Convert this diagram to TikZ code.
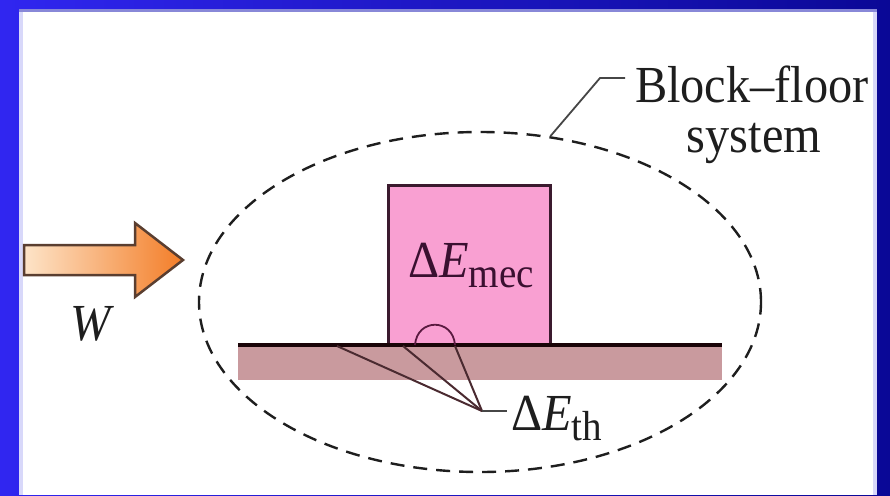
\documentclass[tikz,border=0pt]{standalone}
\usepackage{fontspec}
\setmainfont{Liberation Serif}
\usetikzlibrary{shapes.geometric}
\definecolor{bgl}{RGB}{48,38,240}
\definecolor{bgr}{RGB}{10,8,150}
\definecolor{edgetop}{RGB}{136,136,216}
\definecolor{edgeside}{RGB}{216,216,250}
\definecolor{arrowlight}{RGB}{253,228,200}
\definecolor{arroworange}{RGB}{243,125,40}
\definecolor{arrowline}{RGB}{90,62,48}
\definecolor{blockfill}{RGB}{249,160,210}
\definecolor{blockline}{RGB}{59,26,46}
\definecolor{floorfill}{RGB}{201,154,158}
\definecolor{floorline}{RGB}{26,5,8}
\definecolor{inkgray}{RGB}{30,30,30}
\definecolor{leadgray}{RGB}{70,70,70}
\definecolor{ray}{RGB}{74,42,48}
\definecolor{archc}{RGB}{90,26,64}
\definecolor{mecc}{RGB}{58,16,48}
\newcommand{\bigfont}{\fontsize{52}{58}\selectfont}
\newcommand{\mysubtext}[1]{\raisebox{-10pt}{\fontsize{42}{46}\selectfont #1}}
\newcommand{\squeeze}[1]{\scalebox{0.93}[1]{#1}}
\tikzset{
  lbl/.style={inner sep=0pt, outer sep=0pt, text=inkgray, font=\bigfont},
  sysline/.style={draw=inkgray, line width=2.4pt, dash pattern=on 14pt off 9pt},
  leader/.style={draw=leadgray, line width=1.8pt},
  rayline/.style={draw=ray, line width=2pt},
}
\begin{document}
\begin{tikzpicture}[x=1pt,y=-1pt]
\useasboundingbox (0,0) rectangle (890,495);
% background and panel
\shade[left color=bgl, right color=bgr] (0,0) rectangle (890,495);
\fill[edgetop] (19,9) rectangle (877,495);
\fill[edgeside] (19,12) rectangle (877,495);
\fill[white] (23,12) rectangle (873,495);
% work arrow
\shade[left color=arrowlight, right color=arroworange, draw=arrowline, line width=2.5pt, line join=miter]
  (24,245) -- (135,245) -- (135,223) -- (183,260) -- (135,297) -- (135,275) -- (24,275) -- cycle;
\node[lbl, anchor=base] (w) at (92,340) {\squeeze{\textit{W}}};
% system boundary
\node[ellipse, sysline, minimum width=562pt, minimum height=340pt, inner sep=0pt] (sys) at (480,302) {};
% floor
\node[fill=floorfill, minimum width=484pt, minimum height=35pt, inner sep=0pt, outer sep=0pt] (floor) at (480,362.5) {};
% block
\node[fill=blockfill, draw=blockline, line width=3pt, minimum width=162pt, minimum height=160pt, inner sep=0pt] (blk) at (469,265) {};
\draw[floorline, line width=4pt] (floor.north west) -- (floor.north east);
% contact arch
\draw[archc, line width=1.8pt] (415,345) .. controls (417,318) and (453,318) .. (455,345);
% labels
\node[lbl, text=mecc, anchor=base west] (emec) at (408,277) {\squeeze{Δ\textit{E}\mysubtext{mec}}};
\node[lbl, anchor=base west] (eth) at (511,430) {\squeeze{Δ\textit{E}\mysubtext{th}}};
\node[lbl, anchor=base west] (bf1) at (635,102) {\squeeze{Block–floor}};
\node[lbl, anchor=base] (bf2) at (754,152) {\squeeze{system}};
% leader to system label
\coordinate (lk) at (600,78);
\draw[leader] (sys.67.6) -- (lk) -- (625,78);
% rays to thermal energy
\coordinate (th) at (482,411);
\coordinate (f1) at (337,346);
\coordinate (f2) at (403,346);
\coordinate (f3) at (455,346);
\draw[rayline] (f1) -- (th);
\draw[rayline] (f2) -- (th);
\draw[rayline] (f3) -- (th);
\draw[leader] (th) -- (507,411);
\end{tikzpicture}
\end{document}
